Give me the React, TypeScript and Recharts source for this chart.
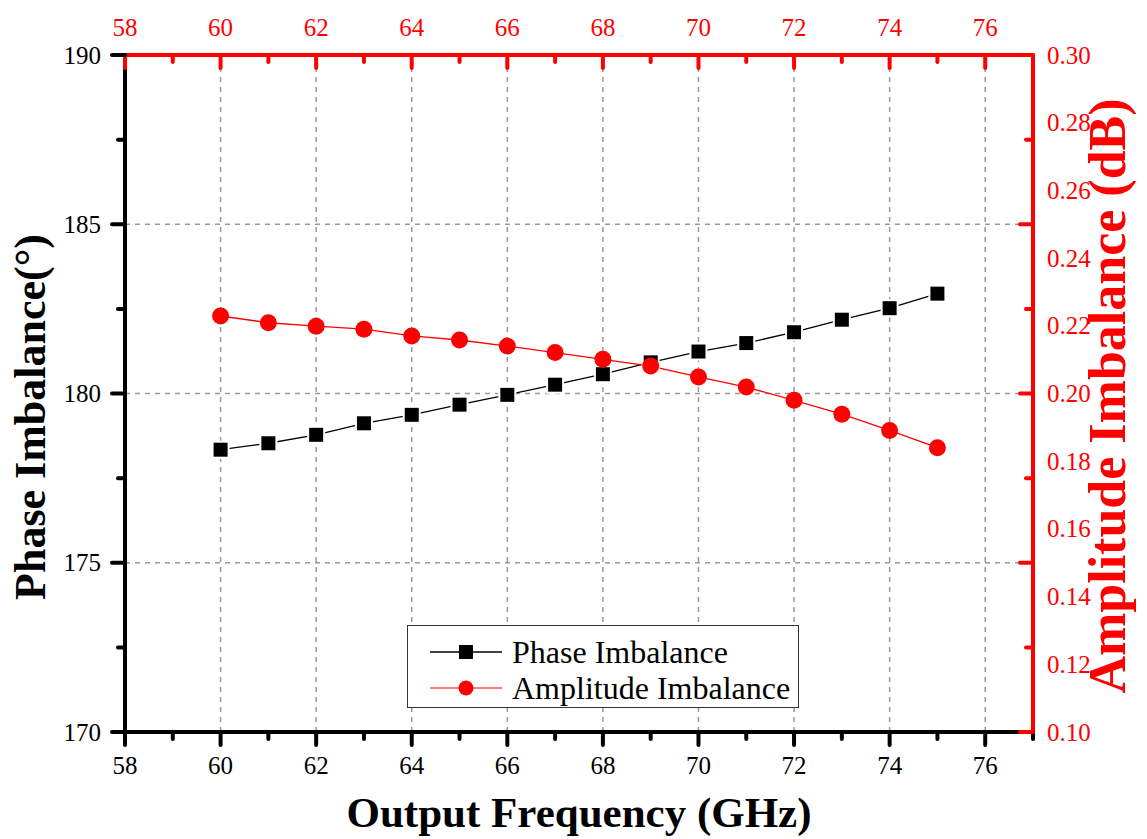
import { LineChart, Line, XAxis, YAxis, ReferenceLine, Legend } from 'recharts'

const FONT = '"Liberation Serif", "Times New Roman", serif'

// data
const FREQ = [60, 61, 62, 63, 64, 65, 66, 67, 68, 69, 70, 71, 72, 73, 74, 75]
const PHASE = [178.34, 178.53, 178.78, 179.12, 179.37, 179.67, 179.96, 180.26, 180.57, 180.92, 181.24, 181.49, 181.81, 182.18, 182.52, 182.95]
const AMPLITUDE = [0.2229, 0.2209, 0.2199, 0.219, 0.217, 0.2158, 0.214, 0.2121, 0.2101, 0.2081, 0.2049, 0.2019, 0.198, 0.1939, 0.1891, 0.184]

const X_TICKS = [58, 59, 60, 61, 62, 63, 64, 65, 66, 67, 68, 69, 70, 71, 72, 73, 74, 75, 76, 77]
const X_GRID = [60, 62, 64, 66, 68, 70, 72, 74, 76]
const LEFT_TICKS = [170, 172.5, 175, 177.5, 180, 182.5, 185, 187.5, 190]
const LEFT_GRID = [175, 180, 185]
const RIGHT_MARKS = [0.1, 0.125, 0.15, 0.175, 0.2, 0.225, 0.25, 0.275, 0.3]
const RIGHT_LABELS = [0.1, 0.12, 0.14, 0.16, 0.18, 0.2, 0.22, 0.24, 0.26, 0.28, 0.3]

const RIGHT_TICKS = Array.from(new Set([...RIGHT_MARKS, ...RIGHT_LABELS])).sort((a, b) => a - b)
const has = (arr: number[], v: number) => arr.some((a) => Math.abs(a - v) < 1e-6)

const data = FREQ.map((f, i) => ({ f, phase: PHASE[i], amp: AMPLITUDE[i] }))

function BottomTick({ x, y, payload }: any) {
  const v = payload.value
  const major = v % 2 === 0 && v <= 76
  return (
    <g>
      <line x1={x} y1={y} x2={x} y2={y + (major ? 13 : 7)} stroke="#000" strokeWidth={4} strokeLinecap="round" />
      {major && (
        <text x={x} y={y + 33} textAnchor="middle" dominantBaseline="central" fontSize={25} fontFamily={FONT} fill="#000">{v}</text>
      )}
    </g>
  )
}

function TopTick({ x, y, payload }: any) {
  const v = payload.value
  const major = v % 2 === 0 && v <= 76
  return (
    <g>
      <line x1={x} y1={y} x2={x} y2={y + (major ? 13 : 7)} stroke="#ff0000" strokeWidth={4} strokeLinecap="round" />
      {major && (
        <text x={x} y={y - 28} textAnchor="middle" dominantBaseline="central" fontSize={25} fontFamily={FONT} fill="#ff0000">{v}</text>
      )}
    </g>
  )
}

function LeftTick({ x, y, payload }: any) {
  const v = payload.value
  const major = v % 5 === 0
  return (
    <g>
      <line x1={x} y1={y} x2={x - (major ? 13 : 7)} y2={y} stroke="#000" strokeWidth={4} strokeLinecap="round" />
      {major && (
        <text x={x - 24} y={y} textAnchor="end" dominantBaseline="central" fontSize={25} fontFamily={FONT} fill="#000">{v}</text>
      )}
    </g>
  )
}

function RightTick({ x, y, payload }: any) {
  const v = payload.value
  const mark = has(RIGHT_MARKS, v)
  const major = has([0.1, 0.15, 0.2, 0.25, 0.3], v)
  return (
    <g>
      {mark && <line x1={x} y1={y} x2={x - (major ? 13 : 7)} y2={y} stroke="#ff0000" strokeWidth={4} strokeLinecap="round" />}
      {has(RIGHT_LABELS, v) && (
        <text x={x + 14} y={y} textAnchor="start" dominantBaseline="central" fontSize={25} fontFamily={FONT} fill="#ff0000">{v.toFixed(2)}</text>
      )}
    </g>
  )
}

function SquareDot({ cx, cy }: any) {
  if (cx == null || cy == null) return null
  return <rect x={cx - 8} y={cy - 8} width={16} height={16} fill="#000" stroke="#fff" strokeWidth={2} />
}

function CircleDot({ cx, cy }: any) {
  if (cx == null || cy == null) return null
  return <circle cx={cx} cy={cy} r={8.5} fill="#ff0000" />
}

function LegendBox() {
  return (
    <div style={{ width: 392, height: 83, boxSizing: 'border-box', border: '1.5px solid #333', background: '#fff', position: 'relative' }}>
      <svg width={392} height={83} style={{ position: 'absolute', left: -1.5, top: -1.5 }}>
        <line x1={23} y1={27} x2={95} y2={27} stroke="#000" strokeWidth={1.5} />
        <rect x={52} y={20} width={14} height={14} fill="#000" />
        <text x={105} y={27} dominantBaseline="central" fontSize={32} fontFamily={FONT} fill="#000">Phase Imbalance</text>
        <line x1={23} y1={63} x2={95} y2={63} stroke="#ff5555" strokeWidth={1.5} />
        <circle cx={59} cy={63} r={7.5} fill="#ff0000" />
        <text x={105} y={63} dominantBaseline="central" fontSize={32} fontFamily={FONT} fill="#000">Amplitude Imbalance</text>
      </svg>
    </div>
  )
}

export default function App() {
  return (
    <div style={{ position: 'absolute', left: 0, top: 0, width: 1147, height: 839, background: '#fff', fontFamily: FONT }}>
      <LineChart width={1147} height={839} data={data} margin={{ top: 15, right: 34, bottom: 67, left: 65 }}>
        <XAxis xAxisId="b" dataKey="f" type="number" domain={[58, 77]} ticks={X_TICKS} interval={0}
          orientation="bottom" height={40} tickSize={0} tickMargin={0} tick={<BottomTick />}
          axisLine={{ stroke: '#000', strokeWidth: 4 }} />
        <XAxis xAxisId="t" dataKey="f" type="number" domain={[58, 77]} ticks={X_TICKS} interval={0}
          orientation="top" height={40} tickSize={0} tickMargin={0} tick={<TopTick />}
          axisLine={{ stroke: '#ff0000', strokeWidth: 4 }} />
        <YAxis yAxisId="l" type="number" domain={[170, 190]} ticks={LEFT_TICKS} interval={0}
          orientation="left" width={60} tickSize={0} tickMargin={0} tick={<LeftTick />}
          axisLine={{ stroke: '#000', strokeWidth: 4 }} />
        <YAxis yAxisId="r" type="number" domain={[0.1, 0.3]} ticks={RIGHT_TICKS} interval={0}
          orientation="right" width={80} tickSize={0} tickMargin={0} tick={<RightTick />}
          axisLine={{ stroke: '#ff0000', strokeWidth: 4 }} />
        {X_GRID.map((v) => (
          <ReferenceLine key={'x' + v} x={v} xAxisId="b" yAxisId="l" stroke="#999" strokeWidth={1.5} strokeDasharray="5 5" />
        ))}
        {LEFT_GRID.map((v) => (
          <ReferenceLine key={'y' + v} y={v} xAxisId="b" yAxisId="l" stroke="#999" strokeWidth={1.5} strokeDasharray="5 5" />
        ))}
        <Line xAxisId="b" yAxisId="l" dataKey="phase" name="Phase Imbalance" stroke="#000" strokeWidth={1.3}
          dot={<SquareDot />} activeDot={false} isAnimationActive={false} />
        <Line xAxisId="b" yAxisId="r" dataKey="amp" name="Amplitude Imbalance" stroke="#ff0000" strokeWidth={1.3}
          dot={<CircleDot />} activeDot={false} isAnimationActive={false} />
        <Legend layout="horizontal" verticalAlign="middle" align="center" content={() => <LegendBox />}
          wrapperStyle={{ left: 407, top: 625, width: 392, height: 83 }} />
      </LineChart>
      <svg width={1147} height={839} style={{ position: 'absolute', left: 0, top: 0, pointerEvents: 'none' }}>
        <text x={45} y={417} transform="rotate(-90, 45, 417)" textAnchor="middle" fontSize={44} fontWeight="bold" fontFamily={FONT} fill="#000">Phase Imbalance(°)</text>
        <text x={1125} y={396} transform="rotate(-90, 1125, 396)" textAnchor="middle" fontSize={52} fontWeight="bold" fontFamily={FONT} fill="#ff0000">Amplitude Imbalance (dB)</text>
        <text x={579} y={827} textAnchor="middle" fontSize={43} fontWeight="bold" fontFamily={FONT} fill="#000">Output Frequency (GHz)</text>
      </svg>
    </div>
  )
}
